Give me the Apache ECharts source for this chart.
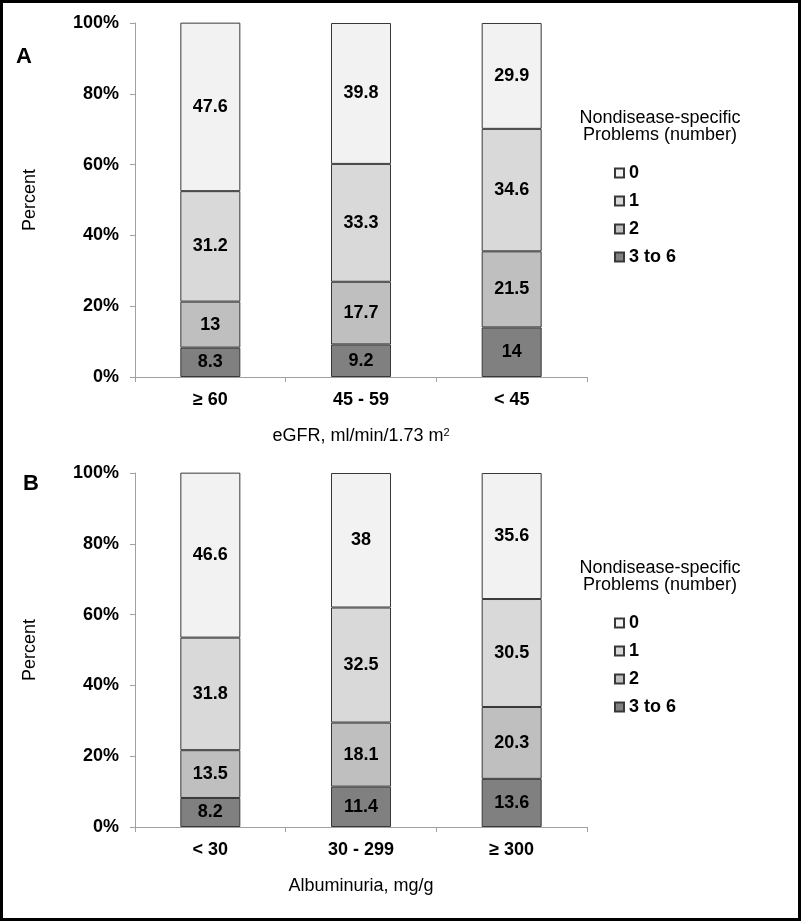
<!DOCTYPE html>
<html><head><meta charset="utf-8">
<script src="https://cdn.jsdelivr.net/npm/echarts@6/dist/echarts.min.js"></script>
<style>html,body{margin:0;padding:0;background:#fff}#c{width:803px;height:922px}</style>
</head><body><div id="c"></div>
<script>
const categoriesA = ['≥ 60', '45 - 59', '< 45'];
const categoriesB = ['< 30', '30 - 299', '≥ 300'];
const groupNames = ['3 to 6', '2', '1', '0'];
const legendOrder = ['0', '1', '2', '3 to 6'];
// Panel A (eGFR)
const a36 = [8.3, 9.2, 14];
const a2 = [13, 17.7, 21.5];
const a1 = [31.2, 33.3, 34.6];
const a0 = [47.6, 39.8, 29.9];
// Panel B (Albuminuria)
const b36 = [8.2, 11.4, 13.6];
const b2 = [13.5, 18.1, 20.3];
const b1 = [31.8, 32.5, 30.5];
const b0 = [46.6, 38, 35.6];

const colors = { '0': '#f2f2f2', '1': '#d9d9d9', '2': '#bfbfbf', '3 to 6': '#808080' };
const FONT = '"Liberation Sans", Arial, sans-serif';
const axisGray = '#a0a0a0';

function mkSeries(name, data, idx) {
  return {
    type: 'bar', name: name, data: data, stack: 'p' + idx,
    xAxisIndex: idx, yAxisIndex: idx, barWidth: 60,
    itemStyle: { color: colors[name], borderColor: '#383838', borderWidth: 1 },
    label: { show: true, position: 'inside', color: '#000', fontFamily: FONT, fontWeight: 'bold', fontSize: 18 },
    emphasis: { disabled: true }
  };
}

function mkX(cats, idx, name) {
  return {
    type: 'category', gridIndex: idx, data: cats,
    axisLine: { lineStyle: { color: axisGray, width: 1 } },
    axisTick: { show: true, length: 5, lineStyle: { color: axisGray } },
    axisLabel: { color: '#000', fontFamily: FONT, fontWeight: 'bold', fontSize: 18, margin: 14 },
    name: name, nameLocation: 'middle', nameGap: 50,
    nameTextStyle: { color: '#000', fontFamily: FONT, fontSize: 18, rich: { sup: { fontSize: 11, padding: [0, 0, 8, 0], color: '#000', fontFamily: FONT } } }
  };
}
function mkY(idx) {
  return {
    type: 'value', gridIndex: idx, min: 0, max: 100, interval: 20,
    axisLine: { show: true, lineStyle: { color: axisGray, width: 1 } },
    axisTick: { show: true, length: 5, lineStyle: { color: axisGray } },
    splitLine: { show: false },
    axisLabel: { color: '#000', fontFamily: FONT, fontWeight: 'bold', fontSize: 18, margin: 16, formatter: '{value}%' },
    name: 'Percent', nameLocation: 'middle', nameGap: 96,
    nameTextStyle: { color: '#000', fontFamily: FONT, fontSize: 18 }
  };
}
function mkLegend(top) {
  return {
    orient: 'vertical', left: 614, top: top, data: legendOrder, padding: 0,
    icon: 'rect', itemWidth: 9, itemHeight: 9, itemGap: 10, selectedMode: false,
    textStyle: { color: '#000', fontFamily: FONT, fontWeight: 'bold', fontSize: 18, lineHeight: 18 }
  };
}

const seriesA = [a36, a2, a1, a0].map((d, i) => mkSeries(groupNames[i], d, 0));
const seriesB = [b36, b2, b1, b0].map((d, i) => mkSeries(groupNames[i], d, 1));

const chart = echarts.init(document.getElementById('c'), null, { renderer: 'canvas' });
chart.setOption({
  animation: false,
  backgroundColor: '#fff',
  grid: [
    { left: 135, top: 23, width: 452, height: 354 },
    { left: 135, top: 473, width: 452, height: 354 }
  ],
  xAxis: [mkX(categoriesA, 0, 'eGFR, ml/min/1.73 m{sup|2}'), mkX(categoriesB, 1, 'Albuminuria, mg/g')],
  yAxis: [mkY(0), mkY(1)],
  legend: [mkLegend(164), mkLegend(614)],
  series: seriesA.concat(seriesB),
  graphic: [
    { type: 'rect', shape: { x: 1.5, y: 1.5, width: 798, height: 918 }, style: { fill: 'none', stroke: '#000', lineWidth: 3 }, silent: true },
    { type: 'text', left: 16, top: 46, style: { text: 'A', font: 'bold 22px ' + FONT, fill: '#000' } },
    { type: 'text', left: 23, top: 473, style: { text: 'B', font: 'bold 22px ' + FONT, fill: '#000' } },
    { type: 'text', x: 660, y: 126.5, style: { text: 'Nondisease-specific\nProblems (number)', font: '18px ' + FONT, fill: '#000', align: 'center', verticalAlign: 'middle', lineHeight: 17.5 } },
    { type: 'text', x: 660, y: 576.5, style: { text: 'Nondisease-specific\nProblems (number)', font: '18px ' + FONT, fill: '#000', align: 'center', verticalAlign: 'middle', lineHeight: 17.5 } }
  ]
});
</script></body></html>
